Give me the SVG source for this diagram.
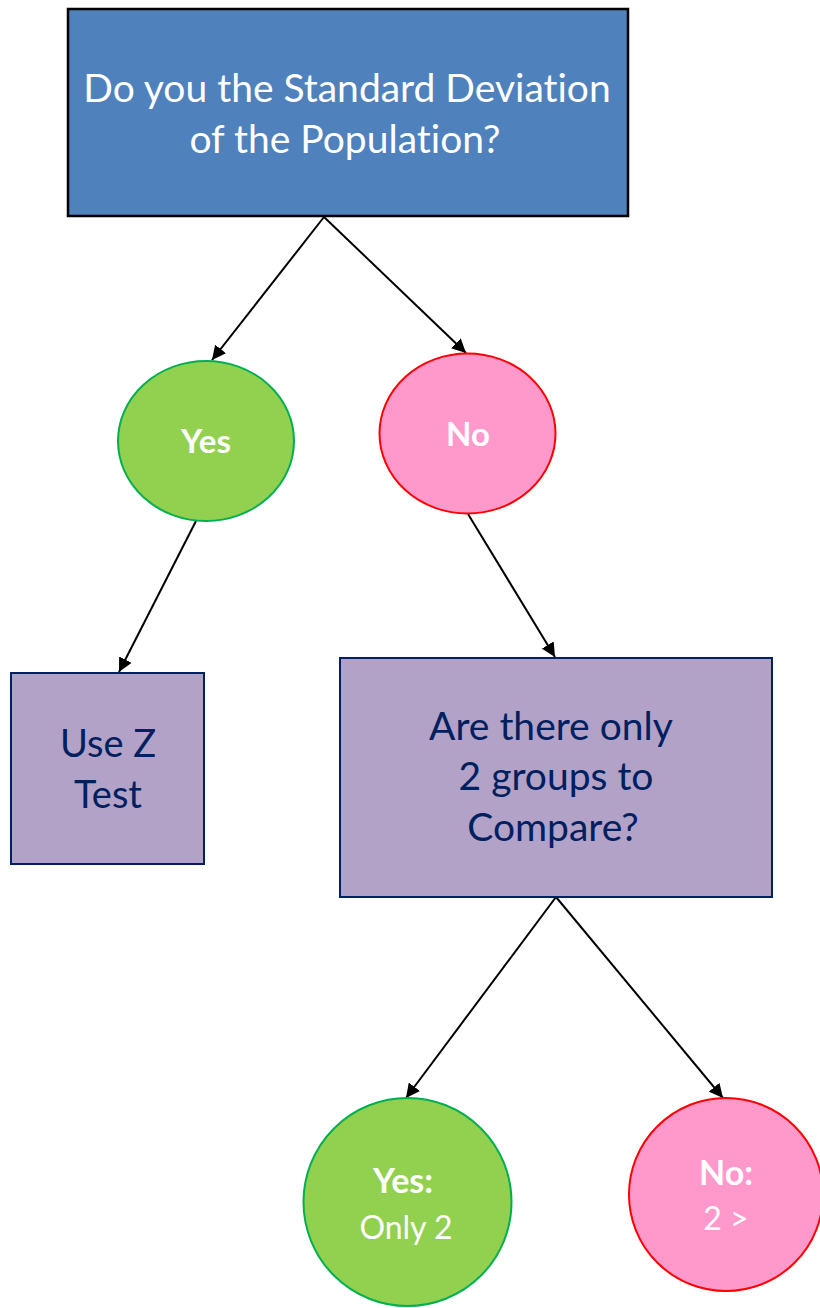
<svg xmlns="http://www.w3.org/2000/svg" width="820" height="1308" viewBox="0 0 820 1308">
  <defs>
    <marker id="arrow" viewBox="0 0 10 10" refX="10" refY="5" markerWidth="14" markerHeight="14" markerUnits="userSpaceOnUse" orient="auto">
      <path d="M0,0 L10,5 L0,10 z" fill="#000"/>
    </marker>
    <style>
      .lbl { font-family: "Lato", "Liberation Sans", sans-serif; text-anchor: middle; font-variant-ligatures: none; }
      .white { fill: #ffffff; }
      .navy { fill: #002060; }
      .bold { font-weight: bold; }
      .box { fill: #b2a2c7; stroke: #002060; stroke-width: 2; }
      .yes { fill: #92d050; stroke: #00b050; stroke-width: 2; }
      .no { fill: #ff99cc; stroke: #ff0000; stroke-width: 2; }
      .edge { stroke: #000; stroke-width: 2; fill: none; marker-end: url(#arrow); }
    </style>
  </defs>
  <rect width="820" height="1308" fill="#ffffff"/>

  <g id="connectors">
    <line class="edge" x1="324" y1="217" x2="212" y2="360"/>
    <line class="edge" x1="324" y1="217" x2="466" y2="353"/>
    <line class="edge" x1="196" y1="521" x2="119" y2="672"/>
    <line class="edge" x1="468" y1="514" x2="555" y2="657"/>
    <line class="edge" x1="556" y1="897" x2="406" y2="1098"/>
    <line class="edge" x1="556" y1="897" x2="723" y2="1098"/>
  </g>

  <g id="question-sd">
    <rect x="68" y="9" width="560" height="207" fill="#4f81bd" stroke="#000" stroke-width="2.5"/>
    <text class="lbl white" font-size="39" x="347" y="102">Do you the Standard Deviation</text>
    <text class="lbl white" font-size="39" x="345" y="153">of the Population?</text>
  </g>

  <g id="answer-yes">
    <ellipse class="yes" cx="206" cy="441" rx="88" ry="80"/>
    <text class="lbl white bold" font-size="33" x="206" y="453">Yes</text>
  </g>

  <g id="answer-no">
    <ellipse class="no" cx="467.5" cy="433.5" rx="88" ry="80"/>
    <text class="lbl white bold" font-size="33" x="468" y="446">No</text>
  </g>

  <g id="use-z-test">
    <rect class="box" x="11" y="673" width="193" height="191"/>
    <text class="lbl navy" font-size="38" x="108" y="757">Use Z</text>
    <text class="lbl navy" font-size="38" x="108" y="808">Test</text>
  </g>

  <g id="question-groups">
    <rect class="box" x="340" y="658" width="432" height="239"/>
    <text class="lbl navy" font-size="39" x="551" y="740">Are there only</text>
    <text class="lbl navy" font-size="39" x="556" y="790">2 groups to</text>
    <text class="lbl navy" font-size="39" x="553" y="841">Compare?</text>
  </g>

  <g id="only-two">
    <ellipse class="yes" cx="407.5" cy="1202" rx="104" ry="104"/>
    <text class="lbl white bold" font-size="34" x="403" y="1193">Yes:</text>
    <text class="lbl white" font-size="32" x="406" y="1239">Only 2</text>
  </g>

  <g id="more-than-two">
    <ellipse class="no" cx="726" cy="1194.5" rx="97" ry="96.5"/>
    <text class="lbl white bold" font-size="34" x="726" y="1185">No:</text>
    <text class="lbl white" font-size="32" x="726" y="1230">2 &gt;</text>
  </g>
</svg>
